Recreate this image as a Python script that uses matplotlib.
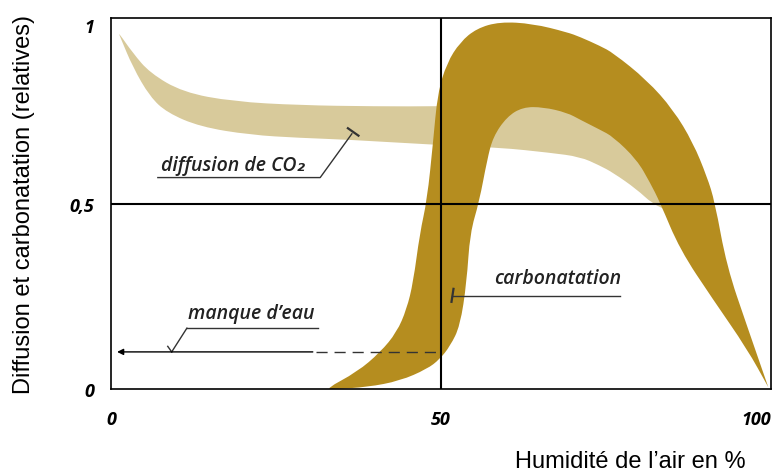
import matplotlib
matplotlib.use('Agg')
import matplotlib.pyplot as plt
from matplotlib.path import Path
from matplotlib.patches import PathPatch

# bande claire : diffusion de CO2 (bord haut, bord bas)
diff_top_x = [1.1, 3.3, 5.9, 10.9, 18.5, 28.6, 40, 50, 60, 66, 71, 76, 80, 84.5, 84.5]
diff_top_y = [0.962, 0.906, 0.852, 0.80, 0.775, 0.765, 0.762, 0.762, 0.766, 0.765, 0.745, 0.70, 0.62, 0.48, 0.48]
diff_bot_x = [82, 79.7, 76.1, 74, 71.1, 66.5, 58.9, 48.3, 36.2, 28.6, 21.1, 13.5, 8.5, 5.9, 3.3, 1.4]
diff_bot_y = [0.5, 0.538, 0.583, 0.603, 0.626, 0.637, 0.651, 0.659, 0.672, 0.677, 0.685, 0.707, 0.745, 0.788, 0.868, 0.949]

# bande foncée : carbonatation (bord extérieur, bord intérieur)
carb_out_x = [32.5, 37.3, 40.8, 43.3, 44.8, 45.8, 46.8, 47.9, 48.8, 49.5, 50.9, 52.9, 55.4, 58.9,
              63.9, 69.1, 71.1, 74.1, 76.1, 81.2, 85.2, 88.2, 90.3, 91.5, 93.3, 96.4, 99.6, 99.6]
carb_out_y = [0.0, 0.046, 0.099, 0.153, 0.215, 0.288, 0.42, 0.51, 0.664, 0.798, 0.879, 0.935, 0.972, 0.99,
              0.985, 0.962, 0.949, 0.925, 0.906, 0.833, 0.753, 0.664, 0.573, 0.505, 0.331, 0.169, 0.005, 0.005]
carb_in_x = [96.4, 91.2, 86.2, 83.2, 81.7, 79.7, 76.1, 74.1, 71.1, 69.1, 65.5, 62.4, 60, 57.9, 57,
             55.8, 54.4, 53.9, 52.9, 51.4, 49.8, 47.9, 43.8, 38.8, 34]
carb_in_y = [0.108, 0.242, 0.376, 0.503, 0.556, 0.618, 0.68, 0.699, 0.726, 0.745, 0.76, 0.76, 0.734, 0.68, 0.618,
             0.505, 0.42, 0.288, 0.17, 0.116, 0.08, 0.054, 0.022, 0.005, 0.0]

x_ticks = [0, 50, 100]
x_labels = ['0', '50', '100']
y_ticks = [0, 0.5, 1]
y_labels = ['0', '0,5', '1']

light = '#D8CA9B'
dark = '#B58D1F'
grey = '#333333'


def smooth_band(xs, ys):
    # contour fermé lissé : courbes quadratiques passant par les milieux
    pts = list(zip(xs, ys))
    n = len(pts)
    mids = [((pts[i][0] + pts[(i + 1) % n][0]) / 2, (pts[i][1] + pts[(i + 1) % n][1]) / 2) for i in range(n)]
    verts = [mids[-1]]
    codes = [Path.MOVETO]
    for i in range(n):
        verts += [pts[i], mids[i]]
        codes += [Path.CURVE3, Path.CURVE3]
    verts.append(mids[-1])
    codes.append(Path.CLOSEPOLY)
    return Path(verts, codes)


fig = plt.figure(figsize=(7.74, 4.77), dpi=100)
ax = fig.add_axes([0.1434, 0.1824, 0.8526, 0.7776])

ax.add_patch(PathPatch(smooth_band(diff_top_x + diff_bot_x, diff_top_y + diff_bot_y),
                       facecolor=light, lw=0, zorder=1))
ax.add_patch(PathPatch(smooth_band(carb_out_x + carb_in_x, carb_out_y + carb_in_y),
                       facecolor=dark, lw=0, zorder=2))

ax.axhline(0.5, color='black', lw=1.5, zorder=3)
ax.axvline(50, color='black', lw=1.5, zorder=3)

# annotations
ann_font = dict(family=['Open Sans', 'DejaVu Sans'], style='italic', weight='semibold', fontsize=14, color='#222222')

ax.text(18.5, 0.605, 'diffusion de CO₂', ha='center', va='center', **ann_font, zorder=5)
ax.plot([7.1, 31.7, 36.5], [0.57, 0.57, 0.688], color=grey, lw=1, zorder=5)
ax.plot([35.9, 37.5], [0.703, 0.683], color=grey, lw=1.6, zorder=5)

ax.text(67.7, 0.30, 'carbonatation', ha='center', va='center', **ann_font, zorder=5)
ax.plot([51.7, 77.1], [0.25, 0.25], color=grey, lw=1, zorder=5)
ax.plot([51.6, 51.9], [0.235, 0.27], color=grey, lw=1.6, zorder=5)

ax.text(21.2, 0.205, 'manque d\u2019eau', ha='center', va='center', **ann_font, zorder=5)
ax.plot([11.5, 31.4], [0.164, 0.164], color=grey, lw=1, zorder=5)
ax.plot([11.5, 9.2], [0.164, 0.1], color=grey, lw=1, zorder=5)
ax.plot([8.6, 9.2], [0.115, 0.1], color=grey, lw=1, zorder=5)
ax.annotate('', xy=(0.5, 0.1), xytext=(31, 0.1),
            arrowprops=dict(arrowstyle='-|>', color='black', lw=1, mutation_scale=9), zorder=5)
ax.plot([31, 50], [0.1, 0.1], color=grey, lw=1, dashes=(8, 5), zorder=5)

ax.set_xlim(0, 100)
ax.set_ylim(0, 1)
ax.set_xticks(x_ticks)
ax.set_xticklabels(x_labels)
ax.set_yticks(y_ticks)
ax.set_yticklabels(y_labels)
ax.tick_params(length=0, labelsize=13)
ax.tick_params(axis='x', pad=15)
ax.tick_params(axis='y', pad=12)
for lab in ax.get_xticklabels() + ax.get_yticklabels():
    lab.set_family('Open Sans')
    lab.set_style('italic')
    lab.set_weight('bold')
ax.get_xticklabels()[-1].set_horizontalalignment('right')
ax.get_xticklabels()[-1].set_x(100.3)
ax.get_yticklabels()[-1].set_verticalalignment('top')
for s in ax.spines.values():
    s.set_linewidth(1.2)
    s.set_color('black')

fig.text(0.031, 0.572, 'Diffusion et carbonatation (relatives)', rotation=90,
         ha='center', va='center', family='Liberation Sans', fontsize=17)
fig.text(0.814, 0.031, 'Humidit\u00e9 de l\u2019air en %', ha='center', va='center',
         family='Liberation Sans', fontsize=17)

fig.savefig('out.png', dpi=100)
